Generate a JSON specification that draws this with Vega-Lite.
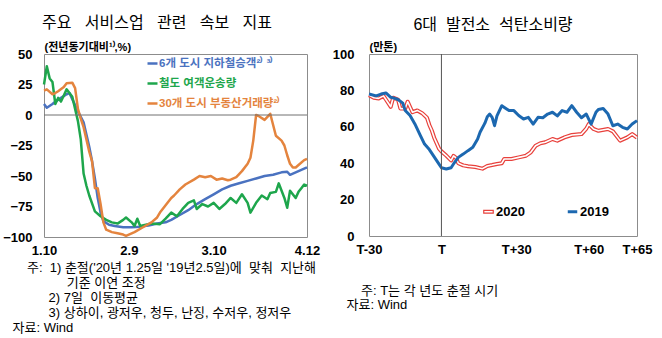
{
"$schema": "https://vega.github.io/schema/vega-lite/v6.json",
"background": "white",
"padding": {"left": 2, "top": 14, "right": 0, "bottom": 0},
"spacing": 10,
"resolve": {"scale": {"color": "independent"}, "legend": {"color": "independent"}},
"config": {
  "view": {"stroke": "#8c8c8c", "strokeWidth": 1},
  "font": "Liberation Sans, Noto Sans CJK KR, sans-serif",
  "axis": {"grid": false, "ticks": false, "domain": false, "labelFontSize": 13, "labelFontWeight": "bold", "labelColor": "#000", "titleColor": "#000"},
  "title": {"fontSize": 16, "fontWeight": "normal", "color": "#000", "offset": 11},
  "legend": {"padding": 0, "titlePadding": 0}
},
"hconcat": [
{
  "width": 263, "height": 183,
  "title": {"text": "주요\u00a0\u00a0\u00a0서비스업\u00a0\u00a0\u00a0관련\u00a0\u00a0\u00a0속보\u00a0\u00a0\u00a0지표", "anchor": "start", "frame": "group", "dx": -2, "dy": 1},
  "data": {"values": [
    {"series": "6개 도시 지하철승객²⁾ ³⁾", "date": "2020-01-10", "value": 9},
    {"series": "6개 도시 지하철승객²⁾ ³⁾", "date": "2020-01-11", "value": 6},
    {"series": "6개 도시 지하철승객²⁾ ³⁾", "date": "2020-01-13", "value": 9},
    {"series": "6개 도시 지하철승객²⁾ ³⁾", "date": "2020-01-14", "value": 11},
    {"series": "6개 도시 지하철승객²⁾ ³⁾", "date": "2020-01-16", "value": 14},
    {"series": "6개 도시 지하철승객²⁾ ³⁾", "date": "2020-01-18", "value": 17},
    {"series": "6개 도시 지하철승객²⁾ ³⁾", "date": "2020-01-19", "value": 18},
    {"series": "6개 도시 지하철승객²⁾ ³⁾", "date": "2020-01-20", "value": 13},
    {"series": "6개 도시 지하철승객²⁾ ³⁾", "date": "2020-01-22", "value": 3},
    {"series": "6개 도시 지하철승객²⁾ ³⁾", "date": "2020-01-24", "value": -6},
    {"series": "6개 도시 지하철승객²⁾ ³⁾", "date": "2020-01-25", "value": -16},
    {"series": "6개 도시 지하철승객²⁾ ³⁾", "date": "2020-01-26", "value": -26},
    {"series": "6개 도시 지하철승객²⁾ ³⁾", "date": "2020-01-27", "value": -38},
    {"series": "6개 도시 지하철승객²⁾ ³⁾", "date": "2020-01-28", "value": -52},
    {"series": "6개 도시 지하철승객²⁾ ³⁾", "date": "2020-01-29", "value": -68},
    {"series": "6개 도시 지하철승객²⁾ ³⁾", "date": "2020-01-30", "value": -80},
    {"series": "6개 도시 지하철승객²⁾ ³⁾", "date": "2020-01-31", "value": -87},
    {"series": "6개 도시 지하철승객²⁾ ³⁾", "date": "2020-02-02", "value": -90},
    {"series": "6개 도시 지하철승객²⁾ ³⁾", "date": "2020-02-04", "value": -91},
    {"series": "6개 도시 지하철승객²⁾ ³⁾", "date": "2020-02-07", "value": -92},
    {"series": "6개 도시 지하철승객²⁾ ³⁾", "date": "2020-02-10", "value": -92},
    {"series": "6개 도시 지하철승객²⁾ ³⁾", "date": "2020-02-13", "value": -91.5},
    {"series": "6개 도시 지하철승객²⁾ ³⁾", "date": "2020-02-16", "value": -90.5},
    {"series": "6개 도시 지하철승객²⁾ ³⁾", "date": "2020-02-19", "value": -89},
    {"series": "6개 도시 지하철승객²⁾ ³⁾", "date": "2020-02-22", "value": -88},
    {"series": "6개 도시 지하철승객²⁾ ³⁾", "date": "2020-02-24", "value": -86},
    {"series": "6개 도시 지하철승객²⁾ ³⁾", "date": "2020-02-27", "value": -82},
    {"series": "6개 도시 지하철승객²⁾ ³⁾", "date": "2020-03-01", "value": -78},
    {"series": "6개 도시 지하철승객²⁾ ³⁾", "date": "2020-03-04", "value": -73},
    {"series": "6개 도시 지하철승객²⁾ ³⁾", "date": "2020-03-07", "value": -69},
    {"series": "6개 도시 지하철승객²⁾ ³⁾", "date": "2020-03-10", "value": -65},
    {"series": "6개 도시 지하철승객²⁾ ³⁾", "date": "2020-03-13", "value": -61},
    {"series": "6개 도시 지하철승객²⁾ ³⁾", "date": "2020-03-16", "value": -58},
    {"series": "6개 도시 지하철승객²⁾ ³⁾", "date": "2020-03-19", "value": -56},
    {"series": "6개 도시 지하철승객²⁾ ³⁾", "date": "2020-03-22", "value": -54},
    {"series": "6개 도시 지하철승객²⁾ ³⁾", "date": "2020-03-25", "value": -52},
    {"series": "6개 도시 지하철승객²⁾ ³⁾", "date": "2020-03-28", "value": -50},
    {"series": "6개 도시 지하철승객²⁾ ³⁾", "date": "2020-03-31", "value": -49},
    {"series": "6개 도시 지하철승객²⁾ ³⁾", "date": "2020-04-03", "value": -47},
    {"series": "6개 도시 지하철승객²⁾ ³⁾", "date": "2020-04-05", "value": -46.5},
    {"series": "6개 도시 지하철승객²⁾ ³⁾", "date": "2020-04-06", "value": -49},
    {"series": "6개 도시 지하철승객²⁾ ³⁾", "date": "2020-04-08", "value": -47},
    {"series": "6개 도시 지하철승객²⁾ ³⁾", "date": "2020-04-10", "value": -45},
    {"series": "6개 도시 지하철승객²⁾ ³⁾", "date": "2020-04-12", "value": -43},
    {"series": "철도 여객운송량", "date": "2020-01-10", "value": 25},
    {"series": "철도 여객운송량", "date": "2020-01-11", "value": 40},
    {"series": "철도 여객운송량", "date": "2020-01-12", "value": 30},
    {"series": "철도 여객운송량", "date": "2020-01-13", "value": 27},
    {"series": "철도 여객운송량", "date": "2020-01-14", "value": 9},
    {"series": "철도 여객운송량", "date": "2020-01-15", "value": 14},
    {"series": "철도 여객운송량", "date": "2020-01-16", "value": 11},
    {"series": "철도 여객운송량", "date": "2020-01-17", "value": 16},
    {"series": "철도 여객운송량", "date": "2020-01-18", "value": 21},
    {"series": "철도 여객운송량", "date": "2020-01-19", "value": 18},
    {"series": "철도 여객운송량", "date": "2020-01-20", "value": 15},
    {"series": "철도 여객운송량", "date": "2020-01-21", "value": 5},
    {"series": "철도 여객운송량", "date": "2020-01-22", "value": -5},
    {"series": "철도 여객운송량", "date": "2020-01-23", "value": -20},
    {"series": "철도 여객운송량", "date": "2020-01-24", "value": -48},
    {"series": "철도 여객운송량", "date": "2020-01-25", "value": -58},
    {"series": "철도 여객운송량", "date": "2020-01-26", "value": -66},
    {"series": "철도 여객운송량", "date": "2020-01-28", "value": -79},
    {"series": "철도 여객운송량", "date": "2020-01-30", "value": -83},
    {"series": "철도 여객운송량", "date": "2020-02-01", "value": -86},
    {"series": "철도 여객운송량", "date": "2020-02-03", "value": -88},
    {"series": "철도 여객운송량", "date": "2020-02-05", "value": -89},
    {"series": "철도 여객운송량", "date": "2020-02-07", "value": -86},
    {"series": "철도 여객운송량", "date": "2020-02-08", "value": -84},
    {"series": "철도 여객운송량", "date": "2020-02-10", "value": -88},
    {"series": "철도 여객운송량", "date": "2020-02-11", "value": -91},
    {"series": "철도 여객운송량", "date": "2020-02-12", "value": -85},
    {"series": "철도 여객운송량", "date": "2020-02-13", "value": -91},
    {"series": "철도 여객운송량", "date": "2020-02-15", "value": -90},
    {"series": "철도 여객운송량", "date": "2020-02-17", "value": -89},
    {"series": "철도 여객운송량", "date": "2020-02-20", "value": -89.5},
    {"series": "철도 여객운송량", "date": "2020-02-22", "value": -85},
    {"series": "철도 여객운송량", "date": "2020-02-24", "value": -80},
    {"series": "철도 여객운송량", "date": "2020-02-26", "value": -83},
    {"series": "철도 여객운송량", "date": "2020-02-28", "value": -77},
    {"series": "철도 여객운송량", "date": "2020-03-01", "value": -72},
    {"series": "철도 여객운송량", "date": "2020-03-03", "value": -70},
    {"series": "철도 여객운송량", "date": "2020-03-04", "value": -77},
    {"series": "철도 여객운송량", "date": "2020-03-06", "value": -73},
    {"series": "철도 여객운송량", "date": "2020-03-08", "value": -75},
    {"series": "철도 여객운송량", "date": "2020-03-10", "value": -72},
    {"series": "철도 여객운송량", "date": "2020-03-12", "value": -77},
    {"series": "철도 여객운송량", "date": "2020-03-14", "value": -73},
    {"series": "철도 여객운송량", "date": "2020-03-16", "value": -68},
    {"series": "철도 여객운송량", "date": "2020-03-18", "value": -72},
    {"series": "철도 여객운송량", "date": "2020-03-20", "value": -65},
    {"series": "철도 여객운송량", "date": "2020-03-22", "value": -72},
    {"series": "철도 여객운송량", "date": "2020-03-23", "value": -80},
    {"series": "철도 여객운송량", "date": "2020-03-25", "value": -72},
    {"series": "철도 여객운송량", "date": "2020-03-27", "value": -66},
    {"series": "철도 여객운송량", "date": "2020-03-29", "value": -69},
    {"series": "철도 여객운송량", "date": "2020-03-30", "value": -64},
    {"series": "철도 여객운송량", "date": "2020-04-01", "value": -63},
    {"series": "철도 여객운송량", "date": "2020-04-02", "value": -56},
    {"series": "철도 여객운송량", "date": "2020-04-04", "value": -68},
    {"series": "철도 여객운송량", "date": "2020-04-05", "value": -76},
    {"series": "철도 여객운송량", "date": "2020-04-06", "value": -62},
    {"series": "철도 여객운송량", "date": "2020-04-08", "value": -68},
    {"series": "철도 여객운송량", "date": "2020-04-09", "value": -63},
    {"series": "철도 여객운송량", "date": "2020-04-10", "value": -60},
    {"series": "철도 여객운송량", "date": "2020-04-11", "value": -57},
    {"series": "철도 여객운송량", "date": "2020-04-12", "value": -58},
    {"series": "30개 도시 부동산거래량²⁾", "date": "2020-01-10", "value": 20},
    {"series": "30개 도시 부동산거래량²⁾", "date": "2020-01-11", "value": 21},
    {"series": "30개 도시 부동산거래량²⁾", "date": "2020-01-13", "value": 17},
    {"series": "30개 도시 부동산거래량²⁾", "date": "2020-01-14", "value": 18},
    {"series": "30개 도시 부동산거래량²⁾", "date": "2020-01-15", "value": 19.5},
    {"series": "30개 도시 부동산거래량²⁾", "date": "2020-01-17", "value": 23},
    {"series": "30개 도시 부동산거래량²⁾", "date": "2020-01-18", "value": 26},
    {"series": "30개 도시 부동산거래량²⁾", "date": "2020-01-20", "value": 26.5},
    {"series": "30개 도시 부동산거래량²⁾", "date": "2020-01-21", "value": 22},
    {"series": "30개 도시 부동산거래량²⁾", "date": "2020-01-22", "value": 5},
    {"series": "30개 도시 부동산거래량²⁾", "date": "2020-01-23", "value": -3},
    {"series": "30개 도시 부동산거래량²⁾", "date": "2020-01-24", "value": -10},
    {"series": "30개 도시 부동산거래량²⁾", "date": "2020-01-25", "value": -20},
    {"series": "30개 도시 부동산거래량²⁾", "date": "2020-01-26", "value": -30},
    {"series": "30개 도시 부동산거래량²⁾", "date": "2020-01-27", "value": -38},
    {"series": "30개 도시 부동산거래량²⁾", "date": "2020-01-28", "value": -60},
    {"series": "30개 도시 부동산거래량²⁾", "date": "2020-01-29", "value": -60},
    {"series": "30개 도시 부동산거래량²⁾", "date": "2020-01-30", "value": -73},
    {"series": "30개 도시 부동산거래량²⁾", "date": "2020-01-31", "value": -88},
    {"series": "30개 도시 부동산거래량²⁾", "date": "2020-02-01", "value": -94},
    {"series": "30개 도시 부동산거래량²⁾", "date": "2020-02-03", "value": -96},
    {"series": "30개 도시 부동산거래량²⁾", "date": "2020-02-05", "value": -97},
    {"series": "30개 도시 부동산거래량²⁾", "date": "2020-02-07", "value": -98},
    {"series": "30개 도시 부동산거래량²⁾", "date": "2020-02-08", "value": -99},
    {"series": "30개 도시 부동산거래량²⁾", "date": "2020-02-09", "value": -98},
    {"series": "30개 도시 부동산거래량²⁾", "date": "2020-02-11", "value": -96},
    {"series": "30개 도시 부동산거래량²⁾", "date": "2020-02-14", "value": -92},
    {"series": "30개 도시 부동산거래량²⁾", "date": "2020-02-17", "value": -88},
    {"series": "30개 도시 부동산거래량²⁾", "date": "2020-02-19", "value": -84},
    {"series": "30개 도시 부동산거래량²⁾", "date": "2020-02-20", "value": -80},
    {"series": "30개 도시 부동산거래량²⁾", "date": "2020-02-22", "value": -74},
    {"series": "30개 도시 부동산거래량²⁾", "date": "2020-02-24", "value": -68},
    {"series": "30개 도시 부동산거래량²⁾", "date": "2020-02-25", "value": -66},
    {"series": "30개 도시 부동산거래량²⁾", "date": "2020-02-27", "value": -61},
    {"series": "30개 도시 부동산거래량²⁾", "date": "2020-02-29", "value": -57},
    {"series": "30개 도시 부동산거래량²⁾", "date": "2020-03-03", "value": -53},
    {"series": "30개 도시 부동산거래량²⁾", "date": "2020-03-05", "value": -50},
    {"series": "30개 도시 부동산거래량²⁾", "date": "2020-03-07", "value": -51},
    {"series": "30개 도시 부동산거래량²⁾", "date": "2020-03-09", "value": -50},
    {"series": "30개 도시 부동산거래량²⁾", "date": "2020-03-11", "value": -53},
    {"series": "30개 도시 부동산거래량²⁾", "date": "2020-03-13", "value": -52},
    {"series": "30개 도시 부동산거래량²⁾", "date": "2020-03-15", "value": -53.5},
    {"series": "30개 도시 부동산거래량²⁾", "date": "2020-03-16", "value": -53},
    {"series": "30개 도시 부동산거래량²⁾", "date": "2020-03-18", "value": -51},
    {"series": "30개 도시 부동산거래량²⁾", "date": "2020-03-20", "value": -46},
    {"series": "30개 도시 부동산거래량²⁾", "date": "2020-03-22", "value": -40},
    {"series": "30개 도시 부동산거래량²⁾", "date": "2020-03-23", "value": -35},
    {"series": "30개 도시 부동산거래량²⁾", "date": "2020-03-24", "value": -21},
    {"series": "30개 도시 부동산거래량²⁾", "date": "2020-03-25", "value": 0},
    {"series": "30개 도시 부동산거래량²⁾", "date": "2020-03-26", "value": -1},
    {"series": "30개 도시 부동산거래량²⁾", "date": "2020-03-28", "value": -4},
    {"series": "30개 도시 부동산거래량²⁾", "date": "2020-03-30", "value": 1},
    {"series": "30개 도시 부동산거래량²⁾", "date": "2020-03-31", "value": -8},
    {"series": "30개 도시 부동산거래량²⁾", "date": "2020-04-01", "value": -17},
    {"series": "30개 도시 부동산거래량²⁾", "date": "2020-04-03", "value": -21},
    {"series": "30개 도시 부동산거래량²⁾", "date": "2020-04-04", "value": -25},
    {"series": "30개 도시 부동산거래량²⁾", "date": "2020-04-05", "value": -33},
    {"series": "30개 도시 부동산거래량²⁾", "date": "2020-04-06", "value": -40},
    {"series": "30개 도시 부동산거래량²⁾", "date": "2020-04-07", "value": -43},
    {"series": "30개 도시 부동산거래량²⁾", "date": "2020-04-08", "value": -43},
    {"series": "30개 도시 부동산거래량²⁾", "date": "2020-04-09", "value": -41},
    {"series": "30개 도시 부동산거래량²⁾", "date": "2020-04-11", "value": -37},
    {"series": "30개 도시 부동산거래량²⁾", "date": "2020-04-12", "value": -36}
  ]},
  "layer": [
    {
      "mark": {"type": "line", "strokeWidth": 2.5, "strokeJoin": "round"},
      "encoding": {
        "x": {"field": "date", "type": "temporal",
          "scale": {"type": "utc", "domain": [{"year": 2020, "month": 1, "date": 10, "utc": true}, {"year": 2020, "month": 4, "date": 12, "utc": true}]},
          "axis": {
            "values": [{"year": 2020, "month": 1, "date": 10, "utc": true}, {"year": 2020, "month": 2, "date": 9, "utc": true}, {"year": 2020, "month": 3, "date": 10, "utc": true}, {"year": 2020, "month": 4, "date": 12, "utc": true}],
            "format": "%-m.%-d", "labelPadding": 7, "labelOverlap": false, "labelFlush": false,
            "title": [
              "\u200b\u00a0\u00a0\u00a0\u00a0주:\u00a0\u00a01)\u00a0춘절('20년\u00a01.25일\u00a0'19년2.5일)에\u00a0\u00a0맞춰\u00a0\u00a0지난해",
              "\u200b\u00a0\u00a0\u00a0\u00a0\u00a0\u00a0\u00a0\u00a0\u00a0\u00a0\u00a0\u00a0\u00a0\u00a0\u00a0기준\u00a0이연\u00a0조정",
              "\u200b\u00a0\u00a0\u00a0\u00a0\u00a0\u00a0\u00a0\u00a0\u00a0\u00a02)\u00a07일\u00a0\u00a0이동평균",
              "\u200b\u00a0\u00a0\u00a0\u00a0\u00a0\u00a0\u00a0\u00a0\u00a0\u00a03)\u00a0상하이,\u00a0광저우,\u00a0청두,\u00a0난징,\u00a0수저우,\u00a0정저우",
              "자료:\u00a0Wind"
            ],
            "titleX": -32, "titleY": 24, "titleAlign": "left", "titleAnchor": "start", "titleBaseline": "top",
            "titleFontSize": 13, "titleFontWeight": "normal", "titleLineHeight": 15
          }
        },
        "y": {"field": "value", "type": "quantitative",
          "scale": {"domain": [-100, 50], "nice": false},
          "axis": {"values": [-100, -75, -50, -25, 0, 25, 50], "labelPadding": 12, "labelOverlap": false,
            "title": "(전년동기대비¹⁾,%)", "titleAngle": 0, "titleAlign": "left", "titleBaseline": "bottom",
            "titleX": 0, "titleY": -2, "titleFontSize": 11, "titleFontWeight": "bold"}
        },
        "color": {"field": "series", "type": "nominal",
          "scale": {"domain": ["6개 도시 지하철승객²⁾ ³⁾", "철도 여객운송량", "30개 도시 부동산거래량²⁾"], "range": ["#4a72c0", "#1ea64c", "#e4843e"]},
          "legend": {"orient": "none", "legendX": 102, "legendY": 3, "title": null,
            "symbolType": "stroke", "symbolStrokeWidth": 2.5, "symbolSize": 100,
            "labelFontSize": 11.5, "labelFontWeight": "bold", "rowPadding": 8, "labelOffset": 0, "labelLimit": 300,
            "encode": {"labels": {"update": {"fill": {"signal": "datum.value == '철도 여객운송량' ? '#1ea64c' : datum.value == '30개 도시 부동산거래량²⁾' ? '#e4843e' : '#4a72c0'"}}}}
          }
        }
      }
    },
    {
      "data": {"values": [{}]},
      "mark": {"type": "rule", "color": "#707070", "strokeWidth": 1},
      "encoding": {"y": {"datum": 0, "type": "quantitative",
          "axis": {"values": [-100, -75, -50, -25, 0, 25, 50], "labelPadding": 12, "labelOverlap": false,
            "title": "(전년동기대비¹⁾,%)", "titleAngle": 0, "titleAlign": "left", "titleBaseline": "bottom",
            "titleX": 0, "titleY": -2, "titleFontSize": 11, "titleFontWeight": "bold"}}}
    }
  ]
},
{
  "width": 268, "height": 182,
  "title": {"text": "6대\u00a0\u00a0발전소\u00a0\u00a0석탄소비량", "anchor": "middle", "frame": "group", "dx": -10, "dy": 3},
  "data": {"values": [
    {"year": "2020", "t": 0, "value": 77.4}, {"year": "2020", "t": 2, "value": 76}, {"year": "2020", "t": 4, "value": 75.6}, {"year": "2020", "t": 6, "value": 77}, {"year": "2020", "t": 7, "value": 75}, {"year": "2020", "t": 9, "value": 71}, {"year": "2020", "t": 10, "value": 76}, {"year": "2020", "t": 12, "value": 75}, {"year": "2020", "t": 13, "value": 70}, {"year": "2020", "t": 15, "value": 70}, {"year": "2020", "t": 16, "value": 73.8}, {"year": "2020", "t": 18, "value": 68}, {"year": "2020", "t": 20, "value": 69}, {"year": "2020", "t": 22, "value": 67.5}, {"year": "2020", "t": 24, "value": 65}, {"year": "2020", "t": 25, "value": 61}, {"year": "2020", "t": 26, "value": 58}, {"year": "2020", "t": 27, "value": 54}, {"year": "2020", "t": 28, "value": 51}, {"year": "2020", "t": 29, "value": 48}, {"year": "2020", "t": 30, "value": 46.5}, {"year": "2020", "t": 32, "value": 44.2}, {"year": "2020", "t": 34, "value": 41.5}, {"year": "2020", "t": 35, "value": 44}, {"year": "2020", "t": 36, "value": 43}, {"year": "2020", "t": 37, "value": 40}, {"year": "2020", "t": 39, "value": 38.8}, {"year": "2020", "t": 41, "value": 38.3}, {"year": "2020", "t": 44, "value": 37.9}, {"year": "2020", "t": 47, "value": 37}, {"year": "2020", "t": 49, "value": 38.5}, {"year": "2020", "t": 51, "value": 39}, {"year": "2020", "t": 53, "value": 39.6}, {"year": "2020", "t": 55, "value": 40}, {"year": "2020", "t": 56, "value": 42.3}, {"year": "2020", "t": 59, "value": 42.3}, {"year": "2020", "t": 62, "value": 43.2}, {"year": "2020", "t": 65, "value": 44.1}, {"year": "2020", "t": 67, "value": 46}, {"year": "2020", "t": 69, "value": 49.6}, {"year": "2020", "t": 71, "value": 51}, {"year": "2020", "t": 73, "value": 51.5}, {"year": "2020", "t": 76, "value": 53.3}, {"year": "2020", "t": 78, "value": 52.4}, {"year": "2020", "t": 81, "value": 54.2}, {"year": "2020", "t": 84, "value": 55.5}, {"year": "2020", "t": 88, "value": 56}, {"year": "2020", "t": 90, "value": 59}, {"year": "2020", "t": 91, "value": 61.5}, {"year": "2020", "t": 93, "value": 58.8}, {"year": "2020", "t": 95, "value": 57.8}, {"year": "2020", "t": 99, "value": 58.8}, {"year": "2020", "t": 101, "value": 57.5}, {"year": "2020", "t": 104, "value": 52.4}, {"year": "2020", "t": 107, "value": 54.2}, {"year": "2020", "t": 109, "value": 56}, {"year": "2020", "t": 111, "value": 54},
    {"year": "2019", "t": 0, "value": 78}, {"year": "2019", "t": 3, "value": 77}, {"year": "2019", "t": 5, "value": 78}, {"year": "2019", "t": 7, "value": 78.6}, {"year": "2019", "t": 9, "value": 76.2}, {"year": "2019", "t": 11, "value": 75.5}, {"year": "2019", "t": 12, "value": 75}, {"year": "2019", "t": 14, "value": 73}, {"year": "2019", "t": 15, "value": 69}, {"year": "2019", "t": 17, "value": 66.2}, {"year": "2019", "t": 19, "value": 61.6}, {"year": "2019", "t": 21, "value": 56}, {"year": "2019", "t": 23, "value": 50.5}, {"year": "2019", "t": 25, "value": 47.5}, {"year": "2019", "t": 27, "value": 43.5}, {"year": "2019", "t": 29, "value": 39.5}, {"year": "2019", "t": 30, "value": 37.5}, {"year": "2019", "t": 32, "value": 36.8}, {"year": "2019", "t": 34, "value": 37.5}, {"year": "2019", "t": 35, "value": 39.6}, {"year": "2019", "t": 37, "value": 43.2}, {"year": "2019", "t": 39, "value": 45}, {"year": "2019", "t": 41, "value": 46.9}, {"year": "2019", "t": 43, "value": 48.7}, {"year": "2019", "t": 45, "value": 53.3}, {"year": "2019", "t": 46, "value": 57}, {"year": "2019", "t": 48, "value": 62}, {"year": "2019", "t": 49, "value": 65.5}, {"year": "2019", "t": 50, "value": 67}, {"year": "2019", "t": 51, "value": 65.2}, {"year": "2019", "t": 52, "value": 60.6}, {"year": "2019", "t": 53, "value": 66}, {"year": "2019", "t": 55, "value": 71.6}, {"year": "2019", "t": 57, "value": 69.8}, {"year": "2019", "t": 58, "value": 68.9}, {"year": "2019", "t": 60, "value": 68.9}, {"year": "2019", "t": 62, "value": 66.2}, {"year": "2019", "t": 64, "value": 64.3}, {"year": "2019", "t": 66, "value": 65.2}, {"year": "2019", "t": 68, "value": 61.5}, {"year": "2019", "t": 70, "value": 65.2}, {"year": "2019", "t": 72, "value": 65}, {"year": "2019", "t": 74, "value": 67}, {"year": "2019", "t": 76, "value": 68}, {"year": "2019", "t": 78, "value": 66}, {"year": "2019", "t": 80, "value": 68.9}, {"year": "2019", "t": 82, "value": 68}, {"year": "2019", "t": 84, "value": 71.6}, {"year": "2019", "t": 86, "value": 68}, {"year": "2019", "t": 88, "value": 65}, {"year": "2019", "t": 90, "value": 67}, {"year": "2019", "t": 92, "value": 61.5}, {"year": "2019", "t": 94, "value": 68}, {"year": "2019", "t": 95, "value": 69.5}, {"year": "2019", "t": 97, "value": 70.1}, {"year": "2019", "t": 99, "value": 67}, {"year": "2019", "t": 101, "value": 60.6}, {"year": "2019", "t": 103, "value": 61.5}, {"year": "2019", "t": 105, "value": 59.7}, {"year": "2019", "t": 107, "value": 58.8}, {"year": "2019", "t": 109, "value": 61.5}, {"year": "2019", "t": 111, "value": 63.4}
  ]},
  "layer": [
    {
      "transform": [{"filter": "datum.year == '2020'"}],
      "mark": {"type": "line", "strokeWidth": 4, "strokeJoin": "round"},
      "encoding": {
        "x": {"field": "t", "type": "quantitative",
          "scale": {"domain": [0, 111], "nice": false, "zero": false},
          "axis": {"values": [0, 30, 61, 91, 111], "labelPadding": 7, "labelOverlap": false, "labelFlush": false,
            "labelExpr": "datum.value == 0 ? 'T-30' : datum.value == 30 ? 'T' : datum.value == 61 ? 'T+30' : datum.value == 91 ? 'T+60' : 'T+65'",
            "title": ["\u200b\u00a0\u00a0\u00a0\u00a0주:\u00a0T는\u00a0각\u00a0년도\u00a0춘절\u00a0시기", "자료:\u00a0Wind"],
            "titleX": -23, "titleY": 48, "titleAlign": "left", "titleAnchor": "start", "titleBaseline": "top",
            "titleFontSize": 13, "titleFontWeight": "normal", "titleLineHeight": 14}
        },
        "y": {"field": "value", "type": "quantitative",
          "scale": {"domain": [0, 100], "nice": false},
          "axis": {"values": [0, 20, 40, 60, 80, 100], "labelPadding": 15, "labelOverlap": false,
            "title": "(만톤)", "titleAngle": 0, "titleAlign": "left", "titleBaseline": "bottom",
            "titleX": 0, "titleY": -2, "titleFontSize": 11, "titleFontWeight": "bold"}
        },
        "color": {"field": "year", "type": "nominal",
          "scale": {"domain": ["2020", "2019"], "range": ["#e8413c", "#1c68b0"]},
          "legend": {"orient": "none", "direction": "horizontal", "legendX": 113, "legendY": 151, "title": null,
            "symbolType": "stroke", "symbolStrokeWidth": 3, "symbolSize": 90,
            "labelFontSize": 13, "labelFontWeight": "bold", "labelColor": "#000", "labelOffset": 1, "columnPadding": 36,
            "encode": {"symbols": {"update": {
              "shape": {"signal": "datum.value == '2020' ? 'M-1,-0.3H1V0.3H-1Z' : 'stroke'"},
              "fill": {"signal": "datum.value == '2020' ? '#ffffff' : 'transparent'"},
              "strokeWidth": {"signal": "datum.value == '2020' ? 1.2 : 3"}
            }}}
          }
        }
      }
    },
    {
      "transform": [{"filter": "datum.year == '2020'"}],
      "mark": {"type": "line", "strokeWidth": 1.6, "color": "#ffffff", "strokeJoin": "round"},
      "encoding": {
        "x": {"field": "t", "type": "quantitative",
          "axis": {"values": [0, 30, 61, 91, 111], "labelPadding": 7, "labelOverlap": false, "labelFlush": false,
            "labelExpr": "datum.value == 0 ? 'T-30' : datum.value == 30 ? 'T' : datum.value == 61 ? 'T+30' : datum.value == 91 ? 'T+60' : 'T+65'",
            "title": ["\u200b\u00a0\u00a0\u00a0\u00a0주:\u00a0T는\u00a0각\u00a0년도\u00a0춘절\u00a0시기", "자료:\u00a0Wind"],
            "titleX": -23, "titleY": 48, "titleAlign": "left", "titleAnchor": "start", "titleBaseline": "top",
            "titleFontSize": 13, "titleFontWeight": "normal", "titleLineHeight": 14}},
        "y": {"field": "value", "type": "quantitative",
          "axis": {"values": [0, 20, 40, 60, 80, 100], "labelPadding": 15, "labelOverlap": false,
            "title": "(만톤)", "titleAngle": 0, "titleAlign": "left", "titleBaseline": "bottom",
            "titleX": 0, "titleY": -2, "titleFontSize": 11, "titleFontWeight": "bold"}}
      }
    },
    {
      "transform": [{"filter": "datum.year == '2019'"}],
      "mark": {"type": "line", "strokeWidth": 3, "strokeJoin": "round"},
      "encoding": {
        "x": {"field": "t", "type": "quantitative",
          "axis": {"values": [0, 30, 61, 91, 111], "labelPadding": 7, "labelOverlap": false, "labelFlush": false,
            "labelExpr": "datum.value == 0 ? 'T-30' : datum.value == 30 ? 'T' : datum.value == 61 ? 'T+30' : datum.value == 91 ? 'T+60' : 'T+65'",
            "title": ["\u200b\u00a0\u00a0\u00a0\u00a0주:\u00a0T는\u00a0각\u00a0년도\u00a0춘절\u00a0시기", "자료:\u00a0Wind"],
            "titleX": -23, "titleY": 48, "titleAlign": "left", "titleAnchor": "start", "titleBaseline": "top",
            "titleFontSize": 13, "titleFontWeight": "normal", "titleLineHeight": 14}},
        "y": {"field": "value", "type": "quantitative",
          "axis": {"values": [0, 20, 40, 60, 80, 100], "labelPadding": 15, "labelOverlap": false,
            "title": "(만톤)", "titleAngle": 0, "titleAlign": "left", "titleBaseline": "bottom",
            "titleX": 0, "titleY": -2, "titleFontSize": 11, "titleFontWeight": "bold"}},
        "color": {"field": "year", "type": "nominal"}
      }
    },
    {
      "data": {"values": [{}]},
      "mark": {"type": "rule", "color": "#555555", "strokeWidth": 1},
      "encoding": {"x": {"datum": 30, "type": "quantitative",
          "axis": {"values": [0, 30, 61, 91, 111], "labelPadding": 7, "labelOverlap": false, "labelFlush": false,
            "labelExpr": "datum.value == 0 ? 'T-30' : datum.value == 30 ? 'T' : datum.value == 61 ? 'T+30' : datum.value == 91 ? 'T+60' : 'T+65'",
            "title": ["\u200b\u00a0\u00a0\u00a0\u00a0주:\u00a0T는\u00a0각\u00a0년도\u00a0춘절\u00a0시기", "자료:\u00a0Wind"],
            "titleX": -23, "titleY": 48, "titleAlign": "left", "titleAnchor": "start", "titleBaseline": "top",
            "titleFontSize": 13, "titleFontWeight": "normal", "titleLineHeight": 14}}}
    }
  ]
}
]
}
